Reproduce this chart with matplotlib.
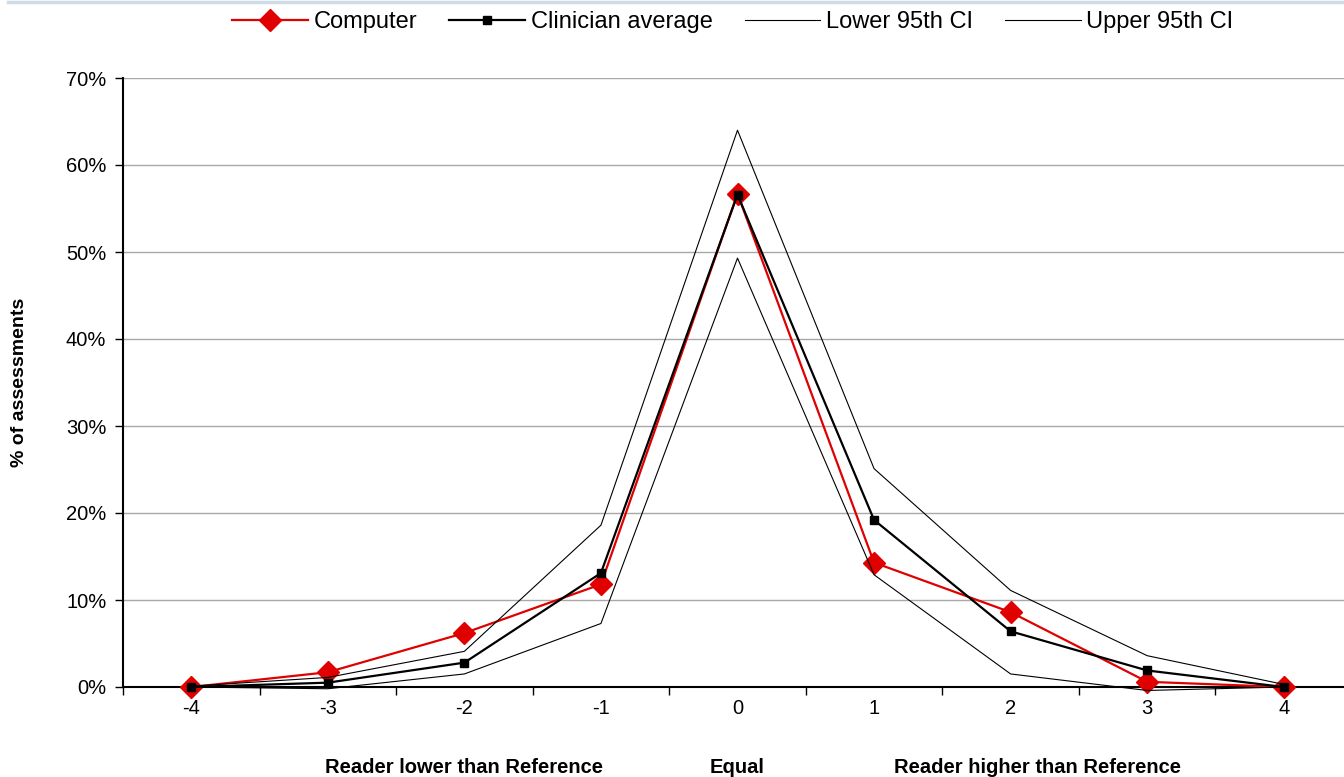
import matplotlib
matplotlib.use("Agg")
import matplotlib.pyplot as plt
from matplotlib.lines import Line2D
from matplotlib.ticker import FuncFormatter, FixedLocator

plt.rcParams['font.family'] = ['Liberation Sans', 'DejaVu Sans']

categories = ['-4', '-3', '-2', '-1', '0', '1', '2', '3', '4']
computer = [0.0, 1.7, 6.2, 11.8, 56.7, 14.3, 8.6, 0.6, 0.0]
clinician = [0.0, 0.5, 2.8, 13.1, 56.6, 19.2, 6.4, 1.9, 0.0]
lower_ci = [0.0, -0.2, 1.5, 7.3, 49.3, 12.9, 1.5, -0.4, 0.0]
upper_ci = [0.1, 1.1, 4.1, 18.6, 64.0, 25.1, 11.1, 3.6, 0.3]
yticks = [0, 10, 20, 30, 40, 50, 60, 70]
group_labels = ['Reader lower than Reference', 'Equal', 'Reader higher than Reference']
group_pos = [2.0, 4.0, 6.2]

fig = plt.figure(figsize=(13.44, 7.77), dpi=100)
ax = fig.add_axes([123/1344, 1 - 687/777, (1352 - 123)/1344, (687 - 78)/777])

x = list(range(len(categories)))
ax.plot(x, computer, color='#e00000', lw=1.6, marker='D', ms=11, mec='#e00000',
        mfc='#e00000', label='Computer', clip_on=False, zorder=3)
ax.plot(x, clinician, color='black', lw=1.6, marker='s', ms=5.5,
        label='Clinician average', clip_on=False, zorder=4)
ax.plot(x, lower_ci, color='black', lw=0.8, label='Lower 95th CI', clip_on=False, zorder=5)
ax.plot(x, upper_ci, color='black', lw=0.8, label='Upper 95th CI', clip_on=False, zorder=5)

ax.set_xlim(-0.5, len(categories) - 0.5)
ax.set_ylim(0, 70)
ax.set_yticks(yticks)
ax.yaxis.set_major_formatter(FuncFormatter(lambda v, p: f'{v:.0f}%'))
ax.yaxis.grid(True, color='#a8a8a8', lw=1)
ax.set_axisbelow(True)

ax.set_xticks(x)
ax.set_xticklabels(categories)
ax.xaxis.set_minor_locator(FixedLocator([i - 0.5 for i in range(len(categories) + 1)]))
ax.tick_params(axis='x', which='major', length=0, pad=9, labelsize=14.5)
ax.tick_params(axis='x', which='minor', length=6, width=1, direction='out')
ax.tick_params(axis='y', which='major', length=6, width=1, direction='out', pad=6, labelsize=14.5)

for s in ['top', 'right']:
    ax.spines[s].set_visible(False)
ax.spines['left'].set_linewidth(1.5)
ax.spines['bottom'].set_linewidth(1.5)

ax.set_ylabel('% of assessments', fontsize=14, fontweight='bold')
ax.yaxis.set_label_coords(-0.077, 0.5)

for lbl, pos in zip(group_labels, group_pos):
    ax.text(pos, -9.3, lbl, ha='center', va='center', fontsize=14.5, fontweight='bold',
            transform=ax.transData)

leg = fig.legend(loc='center', bbox_to_anchor=(733/1344, 1 - 22/777), ncol=4, frameon=False,
                 fontsize=17, handlelength=3.2, handletextpad=0.25, columnspacing=1.35,
                 borderaxespad=0)

fig.add_artist(Line2D([8/1344, 1.0], [1 - 2/777, 1 - 2/777], color='#cfdbe6', lw=2.5))

fig.savefig('out.png', dpi=100)
